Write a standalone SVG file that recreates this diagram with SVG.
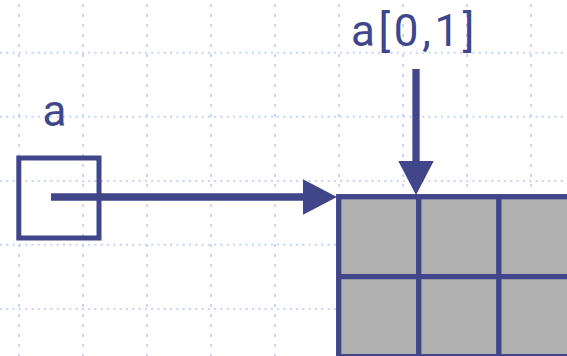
<svg xmlns="http://www.w3.org/2000/svg" width="567" height="356" viewBox="0 0 567 356">
  <style>
    .gh { stroke: #c6d4f6; stroke-width: 2; stroke-dasharray: 2 4.3; fill: none; }
    .gv { stroke: #c6d4f6; stroke-width: 2; stroke-dasharray: 3 7; stroke-dashoffset: 6; fill: none; }
    .ink { stroke: #414589; fill: none; }
    .cell { fill: #b0b0b0; stroke: #414589; stroke-width: 5.3; }
    .lbl { font-family: Roboto, "Liberation Sans", sans-serif; font-size: 44px; fill: #414589; }
    .conn { stroke: #414589; stroke-width: 7.3; fill: none; }
  </style>
  <defs>
    <marker id="head" markerUnits="userSpaceOnUse" markerWidth="36" markerHeight="36" refX="2" refY="17.75" orient="auto">
      <path d="M0,0 L34,17.75 L0,35.5 z" fill="#414589"/>
    </marker>
  </defs>

  <rect width="567" height="356" fill="#ffffff"/>

  <!-- background dotted grid -->
  <g id="grid">
    <path class="gh" d="M0,52.7 H567 M0,116.7 H567 M0,181 H567 M0,244.8 H567 M0,309 H567"/>
    <path class="gv" d="M19,0 V356 M83,0 V356 M147,0 V356 M211,0 V356 M275,0 V356 M339,0 V356 M403,0 V356 M467,0 V356 M531,0 V356"/>
  </g>

  <!-- variable a -->
  <g id="var-a">
    <rect class="ink" x="18.8" y="158" width="80.2" height="80" stroke-width="5"/>
    <text class="lbl" x="42.5" y="125.5">a</text>
  </g>

  <!-- 2-D array cells -->
  <g id="array">
    <rect class="cell" x="338.7" y="196.7" width="240" height="160"/>
    <path class="ink" stroke-width="5.3" d="M418.7,196.7 V356.7 M498.8,196.7 V356.7 M338.7,276.7 H578.7"/>
  </g>

  <!-- element label -->
  <g id="label-a01">
    <text class="lbl" x="351" y="46" letter-spacing="3.6">a[0,1]</text>
  </g>

  <!-- connectors -->
  <g id="connectors">
    <path class="conn" d="M51,197 H305" marker-end="url(#head)"/>
    <path class="conn" d="M416,69 V163" marker-end="url(#head)"/>
  </g>
</svg>
